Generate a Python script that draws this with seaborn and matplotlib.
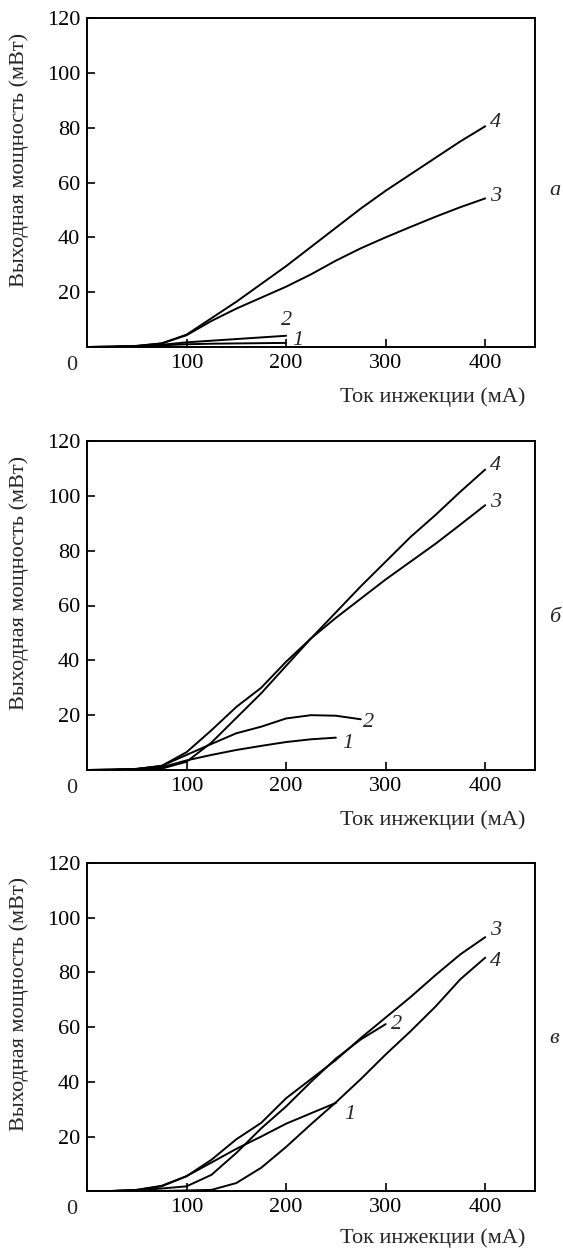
import numpy as np
import pandas as pd
import matplotlib
matplotlib.use("Agg")
import matplotlib.pyplot as plt
import seaborn as sns

# ---------------- data ----------------
x_full = [0, 25, 50, 75, 100, 125, 150, 175, 200, 225, 250, 275, 300, 325, 350, 375, 400]

# panel а
a4 = [0, 0.1, 0.4, 1.3, 4.5, 10.5, 16.5, 23, 29.5, 36.5, 43.5, 50.5, 57, 63, 69, 75, 80.5]
a3 = [0, 0.1, 0.4, 1.3, 4.3, 9.5, 14, 18, 22, 26.5, 31.5, 36, 40, 43.8, 47.5, 51, 54.2]
a2 = [0, 0.1, 0.3, 0.8, 1.7, 2.3, 2.9, 3.5, 4.1]
a1 = [0, 0.1, 0.3, 0.6, 1.0, 1.2, 1.3, 1.4, 1.5]

# panel б
b4 = [0, 0.1, 0.3, 0.5, 3, 10, 19, 28, 38, 48, 57.5, 67, 76, 85, 93, 101.5, 109.6]
b3 = [0, 0.1, 0.4, 1.5, 6.5, 14.5, 23, 30, 39.5, 48, 55.5, 62.5, 69.5, 76, 82.5, 89.5, 96.6]
b2 = [0, 0.1, 0.4, 1.5, 5.5, 9.5, 13.4, 15.8, 18.8, 20, 19.8, 18.5]
b1 = [0, 0.1, 0.4, 1.0, 3.5, 5.5, 7.3, 8.8, 10.2, 11.2, 11.8]

# panel в
c3 = [0, 0.1, 0.5, 1.8, 5.5, 11.5, 19, 25, 34, 41, 48, 56, 63.5, 71, 79, 86.6, 92.9]
c4 = [0, 0, 0, 0.1, 0.3, 0.5, 3, 8.6, 16.2, 24.5, 32.5, 41, 50, 58.5, 67.5, 77.5, 85.4]
c2 = [0, 0.1, 0.3, 1.0, 1.8, 6, 14, 23, 31, 40, 48.5, 55.5, 61.1]
c1 = [0, 0.1, 0.5, 2, 5.5, 10.5, 15.5, 20, 24.7, 28.5, 32.3]

panels = [
    {"tag": "а", "curves": {"1": a1, "2": a2, "3": a3, "4": a4},
     "labels": [("4", 410, 82), ("3", 410, 55), ("2", 200, 9.5), ("1", 212, 2.5)]},
    {"tag": "б", "curves": {"1": b1, "2": b2, "3": b3, "4": b4},
     "labels": [("4", 410, 111), ("3", 410, 97.5), ("2", 283, 17.5), ("1", 262, 9.5)]},
    {"tag": "в", "curves": {"1": c1, "2": c2, "3": c3, "4": c4},
     "labels": [("3", 410, 95.5), ("4", 410, 84), ("2", 311, 61), ("1", 264, 28)]},
]

x_ticks = [100, 200, 300, 400]
y_ticks = [20, 40, 60, 80, 100, 120]
x_label = "Ток инжекции (мА)"
y_label = "Выходная мощность (мВт)"

# ---------------- style ----------------
sns.set_style("ticks")
plt.rcParams["font.family"] = ["Liberation Serif", "DejaVu Serif"]
plt.rcParams["font.size"] = 16

fig = plt.figure(figsize=(5.63, 12.5), dpi=100)
positions = [
    [0.1545, 0.7224, 0.7958, 0.2632],
    [0.1545, 0.3840, 0.7958, 0.2632],
    [0.1545, 0.0470, 0.7958, 0.2626],
]
tag_y = [0.477, 0.465, 0.464]
xlabel_y = [-0.122, -0.122, -0.113]

for p, pos, ty, ly0 in zip(panels, positions, tag_y, xlabel_y):
    ax = fig.add_axes(pos)
    rows = []
    for name, ys in p["curves"].items():
        for xv, yv in zip(x_full, ys):
            rows.append({"x": xv, "y": yv, "curve": name})
    df = pd.DataFrame(rows)
    sns.lineplot(data=df, x="x", y="y", units="curve", estimator=None,
                 color="black", linewidth=1.4, ax=ax, sort=True, legend=False)
    ax.set_xlim(0, 450)
    ax.set_ylim(0, 120)
    ax.set_xticks(x_ticks)
    ax.set_xticklabels([str(t) for t in x_ticks])
    ax.set_yticks(y_ticks)
    ax.set_yticklabels([str(t) for t in y_ticks])
    ax.tick_params(axis="both", direction="in", length=6, width=1.2,
                   labelsize=16, pad=5, colors="black")
    for s in ax.spines.values():
        s.set_visible(True)
        s.set_linewidth(1.4)
        s.set_color("black")
    ax.set_xlabel(x_label, fontsize=16)
    ax.xaxis.set_label_coords(0.978, ly0)
    ax.xaxis.label.set_horizontalalignment("right")
    ax.set_ylabel(y_label, fontsize=16)
    ax.yaxis.set_label_coords(-0.13, 0.57)
    ax.annotate("0", xy=(0, 0), xycoords="data", xytext=(-11, -13),
                textcoords="offset points", ha="center", va="center", fontsize=16)
    for txt, lx, ly in p["labels"]:
        ax.text(lx, ly, txt, fontsize=16, style="italic", ha="center", va="center")
    ax.text(1.032, ty, p["tag"], transform=ax.transAxes, fontsize=16,
            style="italic", ha="left", va="center")

fig.savefig("out.png", dpi=100)
